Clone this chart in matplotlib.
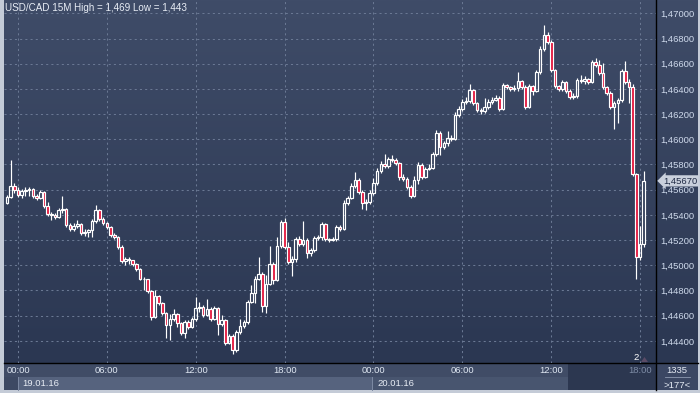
import numpy as np
import matplotlib
matplotlib.use('Agg')
import matplotlib.pyplot as plt
from matplotlib.patches import Rectangle, Polygon
from matplotlib.colors import LinearSegmentedColormap

plt.rcParams['font.family'] = ['Liberation Sans', 'DejaVu Sans']

# USD/CAD 15 minute bars, from 23:15 on 18.01.16 (bar -3) to 18:15 on 20.01.16
first_open = 1.45495
closes = [
    1.45542, 1.45629, 1.45598, 1.45558, 1.45590, 1.45598, 1.45606, 1.45550, 1.45534, 1.45582,
    1.45471, 1.45407, 1.45399, 1.45383, 1.45439, 1.45447, 1.45320, 1.45288, 1.45312, 1.45328,
    1.45256, 1.45264, 1.45280, 1.45352, 1.45439, 1.45368, 1.45336, 1.45304, 1.45240, 1.45224,
    1.45145, 1.45034, 1.45050, 1.45042, 1.45010, 1.44971, 1.44891, 1.44891, 1.44796, 1.44590,
    1.44756, 1.44701, 1.44621, 1.44526, 1.44574, 1.44613, 1.44542, 1.44463, 1.44550, 1.44510,
    1.44574, 1.44661, 1.44669, 1.44605, 1.44653, 1.44574, 1.44661, 1.44534, 1.44566, 1.44383,
    1.44439, 1.44328, 1.44471, 1.44518, 1.44550, 1.44709, 1.44780, 1.44891, 1.44931, 1.44677,
    1.44851, 1.45010, 1.44883, 1.45153, 1.45344, 1.45145, 1.45026, 1.45050, 1.45209, 1.45169,
    1.45201, 1.45097, 1.45121, 1.45217, 1.45224, 1.45328, 1.45209, 1.45201, 1.45209, 1.45304,
    1.45288, 1.45494, 1.45534, 1.45629, 1.45677, 1.45582, 1.45494, 1.45502, 1.45574, 1.45653,
    1.45748, 1.45804, 1.45788, 1.45844, 1.45836, 1.45812, 1.45701, 1.45685, 1.45621, 1.45550,
    1.45677, 1.45796, 1.45701, 1.45764, 1.45772, 1.45883, 1.46050, 1.45939, 1.45970, 1.46010,
    1.46002, 1.46193, 1.46240, 1.46296, 1.46304, 1.46391, 1.46288, 1.46233, 1.46225, 1.46256,
    1.46296, 1.46312, 1.46328, 1.46240, 1.46431, 1.46415, 1.46399, 1.46407, 1.46463, 1.46415,
    1.46256, 1.46423, 1.46383, 1.46534, 1.46717, 1.46828, 1.46772, 1.46550, 1.46423, 1.46399,
    1.46455, 1.46383, 1.46336, 1.46344, 1.46471, 1.46463, 1.46479, 1.46455, 1.46613, 1.46590,
    1.46526, 1.46415, 1.46367, 1.46256, 1.46288, 1.46312, 1.46542, 1.46455, 1.46415, 1.45725,
    1.45066, 1.45169, 1.45670,
]
highs = [
    1.45558, 1.45836, 1.45653, 1.45621, 1.45606, 1.45621, 1.45621, 1.45613, 1.45566, 1.45598,
    1.45590, 1.45502, 1.45423, 1.45415, 1.45455, 1.45550, 1.45455, 1.45336, 1.45336, 1.45360,
    1.45336, 1.45288, 1.45288, 1.45368, 1.45478, 1.45447, 1.45383, 1.45344, 1.45312, 1.45256,
    1.45232, 1.45161, 1.45066, 1.45066, 1.45042, 1.45018, 1.44979, 1.44907, 1.44891, 1.44804,
    1.44804, 1.44764, 1.44709, 1.44629, 1.44613, 1.44653, 1.44621, 1.44550, 1.44566, 1.44566,
    1.44590, 1.44748, 1.44709, 1.44685, 1.44733, 1.44669, 1.44677, 1.44669, 1.44605, 1.44574,
    1.44455, 1.44455, 1.44487, 1.44574, 1.44566, 1.44725, 1.44844, 1.44915, 1.45066, 1.44947,
    1.44923, 1.45153, 1.45026, 1.45224, 1.45360, 1.45376, 1.45185, 1.45074, 1.45224, 1.45232,
    1.45352, 1.45217, 1.45137, 1.45232, 1.45240, 1.45344, 1.45336, 1.45217, 1.45224, 1.45320,
    1.45320, 1.45518, 1.45550, 1.45653, 1.45740, 1.45693, 1.45598, 1.45526, 1.45598, 1.45693,
    1.45772, 1.45828, 1.45883, 1.45859, 1.45875, 1.45852, 1.45820, 1.45725, 1.45701, 1.45637,
    1.45709, 1.45820, 1.45812, 1.45780, 1.45804, 1.45899, 1.46074, 1.46066, 1.45986, 1.46066,
    1.46034, 1.46217, 1.46264, 1.46320, 1.46336, 1.46439, 1.46399, 1.46296, 1.46248, 1.46328,
    1.46320, 1.46336, 1.46352, 1.46344, 1.46447, 1.46439, 1.46423, 1.46431, 1.46534, 1.46471,
    1.46431, 1.46439, 1.46431, 1.46550, 1.46741, 1.46907, 1.46852, 1.46788, 1.46558, 1.46431,
    1.46471, 1.46463, 1.46399, 1.46367, 1.46487, 1.46510, 1.46502, 1.46487, 1.46629, 1.46645,
    1.46629, 1.46605, 1.46423, 1.46383, 1.46304, 1.46328, 1.46558, 1.46621, 1.46479, 1.46439,
    1.45733, 1.45312, 1.45748,
]
lows = [
    1.45486, 1.45534, 1.45574, 1.45542, 1.45534, 1.45550, 1.45550, 1.45534, 1.45518, 1.45526,
    1.45455, 1.45391, 1.45360, 1.45368, 1.45376, 1.45415, 1.45304, 1.45272, 1.45272, 1.45296,
    1.45240, 1.45232, 1.45224, 1.45224, 1.45336, 1.45352, 1.45320, 1.45288, 1.45224, 1.45209,
    1.45129, 1.45018, 1.45002, 1.45010, 1.44994, 1.44955, 1.44883, 1.44804, 1.44780, 1.44566,
    1.44582, 1.44685, 1.44605, 1.44423, 1.44407, 1.44558, 1.44510, 1.44447, 1.44423, 1.44494,
    1.44502, 1.44558, 1.44629, 1.44590, 1.44598, 1.44558, 1.44566, 1.44447, 1.44518, 1.44367,
    1.44375, 1.44296, 1.44312, 1.44455, 1.44502, 1.44534, 1.44701, 1.44701, 1.44883, 1.44629,
    1.44621, 1.44844, 1.44851, 1.44875, 1.45137, 1.45129, 1.45010, 1.44915, 1.45026, 1.45153,
    1.45153, 1.45058, 1.45074, 1.45105, 1.45201, 1.45201, 1.45193, 1.45185, 1.45193, 1.45193,
    1.45272, 1.45280, 1.45478, 1.45526, 1.45613, 1.45566, 1.45447, 1.45439, 1.45486, 1.45558,
    1.45637, 1.45732, 1.45772, 1.45772, 1.45820, 1.45796, 1.45677, 1.45669, 1.45606, 1.45534,
    1.45542, 1.45645, 1.45685, 1.45693, 1.45756, 1.45764, 1.45867, 1.45875, 1.45923, 1.45947,
    1.45986, 1.45994, 1.46177, 1.46225, 1.46280, 1.46288, 1.46272, 1.46217, 1.46201, 1.46209,
    1.46240, 1.46280, 1.46304, 1.46225, 1.46233, 1.46399, 1.46383, 1.46383, 1.46383, 1.46399,
    1.46240, 1.46248, 1.46352, 1.46375, 1.46518, 1.46701, 1.46757, 1.46534, 1.46407, 1.46383,
    1.46383, 1.46367, 1.46320, 1.46320, 1.46328, 1.46447, 1.46439, 1.46439, 1.46447, 1.46574,
    1.46510, 1.46399, 1.46352, 1.46240, 1.46082, 1.46130, 1.46296, 1.46439, 1.46288, 1.45709,
    1.44891, 1.45042, 1.45145,
]
opens = [first_open] + closes[:-1]
bar_index = np.arange(-3, len(closes) - 3)   # 15M bars counted from 00:00 19.01.16

time_labels = ['00:00', '06:00', '12:00', '18:00', '00:00', '06:00', '12:00', '18:00']
date_labels = ['19.01.16', '20.01.16']
price_ticks = [1.444, 1.446, 1.448, 1.450, 1.452, 1.454, 1.456, 1.458,
               1.460, 1.462, 1.464, 1.466, 1.468, 1.470]
title = 'USD/CAD 15M High = 1,469 Low = 1,443'
bar_count = '1335'
bar_marker = '>177<'

W, H = 700, 393
fig = plt.figure(figsize=(W / 100, H / 100), dpi=100, facecolor='#c4cbd7')

# pixel-space overlay for the terminal frame
ov = fig.add_axes([0, 0, 1, 1], zorder=0)
cmap = LinearSegmentedColormap.from_list('bg', ['#3f4c68', '#2b3752'])
ov.imshow(np.linspace(0, 1, 256).reshape(-1, 1), cmap=cmap,
          extent=(4, 698, 363, 0), aspect='auto')
ov.add_patch(Rectangle((4, 363), 652, 14, fc='#404c66', ec='none'))
ov.add_patch(Rectangle((4, 377), 14, 13, fc='#3d4963', ec='none'))
ov.add_patch(Rectangle((18, 377), 354, 13, fc='#56637e', ec='none'))
ov.add_patch(Rectangle((372, 377), 196, 13, fc='#48556f', ec='none'))
ov.add_patch(Rectangle((568, 363), 88, 27, fc='#2c3750', ec='none'))
ov.add_patch(Rectangle((657, 363), 41, 27, fc='#3b4763', ec='none'))
ov.plot([18, 18], [377, 390], color='#7d8aa3', lw=0.7)
ov.plot([372, 372], [377, 390], color='#7d8aa3', lw=0.7)
ov.plot([656, 656], [0, 390], color='black', lw=1.0)
ov.plot([4, 698], [363, 363], color='black', lw=1.0)
ov.plot([665, 690], [377, 377], color='#8d99b0', lw=0.6)
ov.text(677, 370.5, bar_count, color='#e4eaf3', fontsize=6.8, ha='center', va='center')
ov.text(677, 385, bar_marker, color='#e4eaf3', fontsize=6.8, ha='center', va='center')
ov.text(636, 358, '2', color='white', fontsize=6.8, ha='center', va='center')
ov.add_patch(Polygon([[641, 362], [648, 362], [644.5, 357]], closed=True, fc='#5a4b66', ec='none'))
ov.set_xlim(0, W)
ov.set_ylim(H, 0)
ov.axis('off')

# main price axes
ax = fig.add_axes([4 / W, 30 / H, 652 / W, 363 / H], zorder=1)
ax.patch.set_alpha(0)
ax.set_xlim(-3.78, 172.3)
ax.set_ylim(1.44224, 1.47106)

red = '#e3163d'
bw = 0.7
for x, o, c, h, l in zip(bar_index, opens, closes, highs, lows):
    lo_b, hi_b = min(o, c), max(o, c)
    ax.plot([x, x], [l, lo_b], color='white', lw=0.85, solid_capstyle='butt', zorder=3)
    ax.plot([x, x], [hi_b, h], color='white', lw=0.85, solid_capstyle='butt', zorder=3)
    fc = red if c < o else 'none'
    ax.add_patch(Rectangle((x - bw / 2, lo_b), bw, hi_b - lo_b, fc=fc, ec='white',
                           lw=0.85, zorder=4))

ax.set_xticks([24 * i for i in range(len(time_labels))])
ax.set_xticklabels(time_labels)
ax.set_yticks(price_ticks)
ax.set_yticklabels([f'{v:.5f}'.replace('.', ',') for v in price_ticks])
ax.yaxis.tick_right()
ax.tick_params(axis='x', length=0, pad=2.2, labelsize=6.8, labelcolor='#dfe7f2')
ax.tick_params(axis='y', length=0, pad=3.0, labelsize=6.8, labelcolor='#cfdaec')
ax.get_xticklabels()[-1].set_color('#7e8ca6')
ax.grid(True, color='#6a7893', linestyle=(0, (2, 3)), linewidth=0.75)
ax.set_axisbelow(True)
for s in ax.spines.values():
    s.set_visible(False)

ax.text(0.0015, 0.993, title, transform=ax.transAxes, ha='left', va='top',
        color='#e8edf5', fontsize=7.1)

for i, d in enumerate(date_labels):
    ax.annotate(d, xy=(96 * i, 0), xycoords=('data', 'axes fraction'),
                xytext=(3, -14.5), textcoords='offset points', ha='left', va='center',
                color='#e8edf5', fontsize=6.8, annotation_clip=False)

last = closes[-1]
ax.annotate(f'{last:.5f}'.replace('.', ','), xy=(1.0, last), xycoords=('axes fraction', 'data'),
            xytext=(5.2, 0), textcoords='offset points', ha='left', va='center',
            color='#1f2a44', fontsize=6.8, annotation_clip=False, zorder=6,
            bbox=dict(boxstyle='larrow,pad=0.12', fc='#c9d0dc', ec='none'))

fig.savefig('out.png', dpi=100, facecolor=fig.get_facecolor())
